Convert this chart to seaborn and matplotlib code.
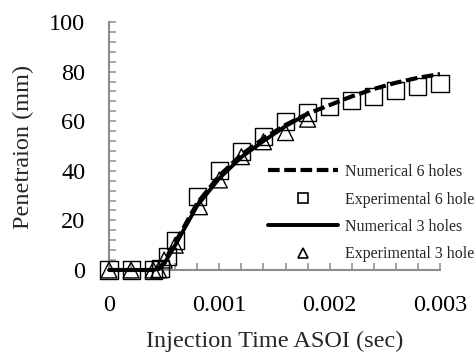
import matplotlib
matplotlib.use("Agg")
import matplotlib.pyplot as plt
import seaborn as sns
from matplotlib.ticker import MultipleLocator, FixedLocator
from matplotlib.lines import Line2D

# ---- data ----
num6_t = [0, 0.0002, 0.0004, 0.00045, 0.0005, 0.0006, 0.0008, 0.001, 0.0012, 0.0014,
          0.0016, 0.0018, 0.002, 0.0022, 0.0024, 0.0026, 0.0028, 0.003]
num6_p = [0, 0, 0, 0.5, 3, 11, 27, 38, 46.5, 53, 58.5, 63, 66.5, 70, 73, 75.5, 77.5, 79]

num3_t = [0, 0.0002, 0.0004, 0.00045, 0.0005, 0.0006, 0.0008, 0.001, 0.0012, 0.0014,
          0.0016, 0.0018]
num3_p = [0, 0, 0, 0.5, 2.5, 10, 26, 37, 45.5, 52, 58, 63]

exp6_t = [0, 0.0002, 0.0004, 0.00047, 0.00053, 0.0006, 0.0008, 0.001, 0.0012, 0.0014,
          0.0016, 0.0018, 0.002, 0.0022, 0.0024, 0.0026, 0.0028, 0.003]
exp6_p = [0, 0, 0, 0.7, 5.4, 11.8, 29.6, 40.3, 47.7, 53.8, 59.8, 63.4, 66.1, 68.5,
          69.9, 72.3, 73.9, 75.3]

exp3_t = [0, 0.0002, 0.0004, 0.00045, 0.0005, 0.0006, 0.00082, 0.001, 0.0012, 0.0014,
          0.0016, 0.0018]
exp3_p = [0, 0, 0, 0, 4, 10, 25.5, 36.3, 45.7, 51.7, 55.4, 60.8]

x_ticks = [0, 0.001, 0.002, 0.003]
x_tick_labels = ["0", "0.001", "0.002", "0.003"]
y_ticks = [0, 20, 40, 60, 80, 100]

labels = ["Numerical 6 holes", "Experimental 6 holes", "Numerical 3 holes", "Experimental 3 holes"]

# ---- plot ----
sns.set_style("white")
plt.rcParams["font.family"] = ["Liberation Serif", "DejaVu Serif"]

DASH = (0, (2.8, 1.1))

fig = plt.figure(figsize=(4.75, 3.56), dpi=100)
ax = fig.add_axes([109/475, 1 - 270/356, (440-109)/475, (270-22)/356])

sns.lineplot(x=num6_t, y=num6_p, ax=ax, color="black", lw=3.0, linestyle=DASH, zorder=3)
sns.lineplot(x=num3_t, y=num3_p, ax=ax, color="black", lw=2.8, zorder=3)
sns.scatterplot(x=exp6_t, y=exp6_p, ax=ax, marker="s", s=150, facecolor="none",
                edgecolor="black", linewidth=1.0, zorder=4)
sns.scatterplot(x=exp3_t, y=exp3_p, ax=ax, marker="^", s=130, facecolor="none",
                edgecolor="black", linewidth=1.0, zorder=4)

ax.set_xlim(0, 0.003)
ax.set_ylim(0, 100)
ax.xaxis.set_major_locator(FixedLocator(x_ticks))
ax.set_xticklabels(x_tick_labels)
ax.yaxis.set_major_locator(FixedLocator(y_ticks))
ax.xaxis.set_minor_locator(MultipleLocator(0.0002))
ax.yaxis.set_minor_locator(MultipleLocator(4))

for s in ["top", "right"]:
    ax.spines[s].set_visible(False)
for s in ["left", "bottom"]:
    ax.spines[s].set_color("#8c8c8c")
    ax.spines[s].set_linewidth(1.5)
    ax.spines[s].set_zorder(1)

ax.tick_params(which="both", direction="in", color="#8c8c8c", width=1.1, length=5,
               bottom=True, left=True, top=False, right=False,
               labelsize=17.5, labelcolor="black")
ax.tick_params(axis="y", which="both", pad=17)
ax.tick_params(axis="x", which="both", pad=18)
for c in ax.collections:
    c.set_clip_on(False)
for l in ax.lines:
    l.set_clip_on(False)

fig.text(23/475, 1 - 147/356, "Penetraion (mm)", rotation=90, ha="center", va="center",
         fontsize=17.5)
fig.text(275/475, 1 - 341/356, "Injection Time ASOI (sec)", ha="center", va="center",
         fontsize=17.5)

handles = [
    Line2D([], [], color="black", lw=3.0, linestyle=DASH),
    Line2D([], [], color="black", marker="s", markersize=6.5, markerfacecolor="none",
           markeredgewidth=1.2, linestyle="none"),
    Line2D([], [], color="black", lw=2.8),
    Line2D([], [], color="black", marker="^", markersize=6.5, markerfacecolor="none",
           markeredgewidth=1.2, linestyle="none"),
]
ax.legend(handles, labels, loc="upper left", bbox_to_anchor=(268/475, 1 - 164/356),
          bbox_transform=fig.transFigure, frameon=False, fontsize=11.5,
          handlelength=4.4, handletextpad=0.45, labelspacing=0.72, borderpad=0,
          borderaxespad=0)

fig.savefig("out.png", dpi=100)
